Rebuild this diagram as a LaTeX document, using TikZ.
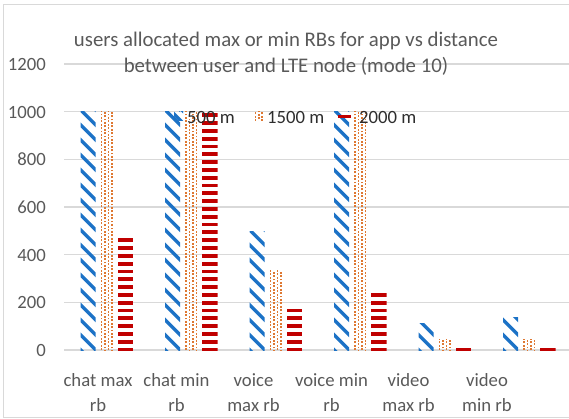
\documentclass[tikz,border=0pt]{standalone}
\usepackage{fontspec}
\setmainfont{Carlito}
\definecolor{gridc}{RGB}{217,217,217}
\definecolor{axisc}{RGB}{89,89,89}
\definecolor{legc}{RGB}{45,45,45}
\definecolor{blueC}{RGB}{28,114,198}
\definecolor{orangeC}{RGB}{222,120,50}
\definecolor{redC}{RGB}{192,0,0}

% value -> vertical position (pixels from top)
\newcommand\vpos[1]{350-(#1)*0.238333}

% patterned bars: #1 = left edge, #2 = value
\newcommand\bluebar[2]{%
  \begin{scope}
    \clip (#1,350) rectangle ({#1+15},{\vpos{#2}});
    \foreach \k in {0,...,17}
      \draw[bluestripe] ({#1-2},{350-15*\k-2}) -- ++(19,19);
  \end{scope}}
\newcommand\orangebar[2]{%
  \begin{scope}
    \clip (#1,350) rectangle ({#1+13.5},{\vpos{#2}});
    \foreach \c in {0,2}
      \draw[orangedots] ({#1+1.4+3.4*\c},350) -- ++(0,-250);
    \foreach \c in {1,3}
      \draw[orangedots,dash phase=1.7pt] ({#1+1.4+3.4*\c},350) -- ++(0,-250);
  \end{scope}}
\newcommand\redbar[2]{%
  \begin{scope}
    \clip (#1,350) rectangle ({#1+15.5},{\vpos{#2}});
    \foreach \k in {0,...,31}
      \fill[redC] (#1,{350-7.8*\k+1.3}) rectangle ++(15.5,-3.8);
  \end{scope}}

\tikzset{
  gridline/.style={draw=gridc, line width=1.3pt},
  bluestripe/.style={draw=blueC, line width=3.3pt},
  orangedots/.style={draw=orangeC, line width=1.6pt, dash pattern=on 1.8pt off 1.6pt},
  axislabel/.style={text=axisc, font=\fontsize{18.7}{25}\selectfont, inner sep=0pt},
  catlabel/.style={axislabel, align=center, anchor=base},
  ticklabel/.style={axislabel, anchor=base east},
  legendtext/.style={text=legc, font=\fontsize{18.7}{22}\selectfont, inner sep=0pt, anchor=base west},
  titletext/.style={text=axisc, font=\fontsize{20.8}{26}\selectfont, align=center, inner sep=0pt, anchor=base},
}

\begin{document}
\begin{tikzpicture}[x=1pt,y=-1pt]
  \useasboundingbox (0,0) rectangle (569,419);
  \clip (0,0) rectangle (569,419);

  % chart frame
  \draw[draw=gridc, line width=1pt] (3.5,4.5) rectangle (590,417.5);

  % horizontal gridlines and value labels
  \foreach \v in {0,200,...,1200} {
    \draw[gridline] (64,{\vpos{\v}}) -- (575,{\vpos{\v}});
    \node[ticklabel] (tick\v) at (46,{\vpos{\v}+6.5}) {\v};
  }

  % bars: 500 m, 1500 m, 2000 m per category
  \bluebar{80.7}{1000}   \orangebar{100.2}{1000}  \redbar{117.6}{485}
  \bluebar{165.2}{1000}  \orangebar{184.7}{1000}  \redbar{202.2}{995}
  \bluebar{249.7}{498}   \orangebar{269.2}{332}   \redbar{286.7}{170}
  \bluebar{334.2}{1000}  \orangebar{353.7}{1000}  \redbar{371.2}{249}
  \bluebar{418.7}{112}   \orangebar{438.2}{42}    \redbar{455.7}{11}
  \bluebar{503.2}{137}   \orangebar{522.7}{42}    \redbar{540.2}{11}

  % category labels (base = baseline of the last line)
  \node[catlabel] (cat1) at (98,411.5)    {chat max\\rb};
  \node[catlabel] (cat2) at (176.5,411.5) {chat min\\rb};
  \node[catlabel] (cat3) at (253.5,411.5) {voice\\max rb};
  \node[catlabel] (cat4) at (331.5,411.5) {voice min\\rb};
  \node[catlabel] (cat5) at (408.5,411.5) {video\\max rb};
  \node[catlabel] (cat6) at (487,411.5)   {video\\min rb};

  % title
  \node[titletext] (title) at (286,72.5)
    {users allocated max or min RBs for app vs distance\\between user and LTE node (mode 10)};

  % legend keys
  \begin{scope}
    \clip (174,112) rectangle (183,121);
    \foreach \k in {0,...,2}
      \draw[bluestripe] (172,{100+12*\k}) -- ++(14,14);
  \end{scope}
  \begin{scope}
    \clip (254,112) rectangle (263,121);
    \draw[orangedots] (255.4,121) -- ++(0,-10);
    \draw[orangedots,dash phase=1.7pt] (258.8,121) -- ++(0,-10);
    \draw[orangedots] (262.2,121) -- ++(0,-10);
  \end{scope}
  \fill[redC] (338,115) rectangle (351,118.5);

  % legend entries
  \node[legendtext] (leg1) at (187,123.5) {500 m};
  \node[legendtext] (leg2) at (267,123.5) {1500 m};
  \node[legendtext] (leg3) at (359,123.5) {2000 m};
\end{tikzpicture}
\end{document}
